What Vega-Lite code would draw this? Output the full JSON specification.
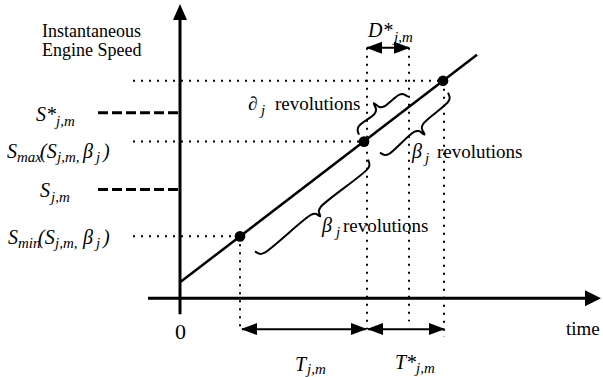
{
  "$schema": "https://vega.github.io/schema/vega-lite/v6.json",
  "width": 603,
  "height": 377,
  "autosize": {"type": "fit", "contains": "padding"},
  "padding": 0,
  "background": "white",
  "config": {"view": {"stroke": null}, "text": {"font": "Liberation Serif, serif", "color": "black"}},
  "datasets": {
    "lines": [
      {"kind": "axis", "id": "ya", "i": 0, "time": 0, "speed": -16},
      {"kind": "axis", "id": "ya", "i": 1, "time": 0, "speed": 280},
      {"kind": "axis", "id": "xa", "i": 0, "time": -32, "speed": 0},
      {"kind": "axis", "id": "xa", "i": 1, "time": 410, "speed": 0},
      {"kind": "curve", "id": "diag", "i": 0, "time": 0, "speed": 15.9},
      {"kind": "curve", "id": "diag", "i": 1, "time": 297, "speed": 244},
      {"kind": "dotted", "id": "h1", "i": 0, "time": -47, "speed": 218},
      {"kind": "dotted", "id": "h1", "i": 1, "time": 263, "speed": 218},
      {"kind": "dotted", "id": "h2", "i": 0, "time": -47, "speed": 157},
      {"kind": "dotted", "id": "h2", "i": 1, "time": 184, "speed": 157},
      {"kind": "dotted", "id": "h3", "i": 0, "time": -47, "speed": 62},
      {"kind": "dotted", "id": "h3", "i": 1, "time": 60, "speed": 62},
      {"kind": "dotted", "id": "v1", "i": 0, "time": 60, "speed": 62},
      {"kind": "dotted", "id": "v1", "i": 1, "time": 60, "speed": -31},
      {"kind": "dotted", "id": "v2", "i": 0, "time": 187, "speed": 251},
      {"kind": "dotted", "id": "v2", "i": 1, "time": 187, "speed": -31},
      {"kind": "dotted", "id": "v3", "i": 0, "time": 229, "speed": 251},
      {"kind": "dotted", "id": "v3", "i": 1, "time": 229, "speed": -23},
      {"kind": "dotted", "id": "v4", "i": 0, "time": 264, "speed": 218},
      {"kind": "dotted", "id": "v4", "i": 1, "time": 264, "speed": -39},
      {"kind": "dashed", "id": "d1", "i": 0, "time": -82, "speed": 186},
      {"kind": "dashed", "id": "d1", "i": 1, "time": 0, "speed": 186},
      {"kind": "dashed", "id": "d2", "i": 0, "time": -82, "speed": 109},
      {"kind": "dashed", "id": "d2", "i": 1, "time": 0, "speed": 109},
      {"kind": "shaft", "id": "T", "i": 0, "time": 62, "speed": -31},
      {"kind": "shaft", "id": "T", "i": 1, "time": 186, "speed": -31},
      {"kind": "shaft", "id": "Ts", "i": 0, "time": 188, "speed": -31},
      {"kind": "shaft", "id": "Ts", "i": 1, "time": 264, "speed": -31},
      {"kind": "shaft", "id": "D", "i": 0, "time": 187, "speed": 251},
      {"kind": "shaft", "id": "D", "i": 1, "time": 229, "speed": 251}
    ],
    "braces": [
      {"id": "b1", "i": 1, "time": 75, "speed": 47},
      {"id": "b1", "i": 2, "time": 79.6, "speed": 44.5},
      {"id": "b1", "i": 3, "time": 84.1, "speed": 45.4},
      {"id": "b1", "i": 4, "time": 131.3, "speed": 83.8},
      {"id": "b1", "i": 5, "time": 135.7, "speed": 84.7},
      {"id": "b1", "i": 6, "time": 140.3, "speed": 82.1},
      {"id": "b1", "i": 7, "time": 138.8, "speed": 87.2},
      {"id": "b1", "i": 8, "time": 140.6, "speed": 91.4},
      {"id": "b1", "i": 9, "time": 187.8, "speed": 129.8},
      {"id": "b1", "i": 10, "time": 189.5, "speed": 133.9},
      {"id": "b1", "i": 11, "time": 188, "speed": 139},
      {"id": "b2", "i": 1, "time": 179, "speed": 164},
      {"id": "b2", "i": 2, "time": 177.6, "speed": 169.1},
      {"id": "b2", "i": 3, "time": 179.5, "speed": 173.2},
      {"id": "b2", "i": 4, "time": 194.5, "speed": 184.9},
      {"id": "b2", "i": 5, "time": 196.1, "speed": 189.3},
      {"id": "b2", "i": 6, "time": 193.7, "speed": 195.6},
      {"id": "b2", "i": 7, "time": 199.3, "speed": 191.7},
      {"id": "b2", "i": 8, "time": 204.0, "speed": 192.2},
      {"id": "b2", "i": 9, "time": 219.0, "speed": 203.9},
      {"id": "b2", "i": 10, "time": 223.4, "speed": 204.6},
      {"id": "b2", "i": 11, "time": 228, "speed": 202},
      {"id": "b3", "i": 1, "time": 200, "speed": 146},
      {"id": "b3", "i": 2, "time": 204.7, "speed": 143.6},
      {"id": "b3", "i": 3, "time": 209.1, "speed": 144.7},
      {"id": "b3", "i": 4, "time": 234.1, "speed": 166.8},
      {"id": "b3", "i": 5, "time": 238.8, "speed": 167.6},
      {"id": "b3", "i": 6, "time": 244.6, "speed": 164.0},
      {"id": "b3", "i": 7, "time": 241.8, "speed": 170.2},
      {"id": "b3", "i": 8, "time": 243.1, "speed": 174.7},
      {"id": "b3", "i": 9, "time": 268.1, "speed": 196.8},
      {"id": "b3", "i": 10, "time": 269.7, "speed": 201.0},
      {"id": "b3", "i": 11, "time": 268, "speed": 206}
    ],
    "heads": [
      {"dir": "up", "time": 0, "speed": 287},
      {"dir": "axisright", "time": 413, "speed": 0},
      {"dir": "left", "time": 69, "speed": -31},
      {"dir": "right", "time": 179, "speed": -31},
      {"dir": "left", "time": 195, "speed": -31},
      {"dir": "right", "time": 257, "speed": -31},
      {"dir": "left", "time": 194, "speed": 251},
      {"dir": "right", "time": 222, "speed": 251}
    ],
    "dots": [
      {"time": 60, "speed": 62},
      {"time": 184, "speed": 157},
      {"time": 263, "speed": 218}
    ],
    "labels": [
      {"style": "title", "text": "Instantaneous", "time": -138, "speed": 262},
      {"style": "title", "text": "Engine Speed", "time": -138, "speed": 243},
      {"style": "plain", "text": "revolutions", "time": 95, "speed": 189},
      {"style": "plain", "text": "revolutions", "time": 257, "speed": 141},
      {"style": "plain", "text": "revolutions", "time": 163, "speed": 66},
      {"style": "plain", "text": "time", "time": 386, "speed": -37},
      {"style": "plain", "text": "∂", "time": 68, "speed": 189},
      {"style": "zero", "text": "0", "time": -5, "speed": -41},
      {"style": "ital", "text": "S*", "time": -144, "speed": 178},
      {"style": "ital", "text": "S", "time": -173, "speed": 141},
      {"style": "ital", "text": "(S", "time": -140, "speed": 141},
      {"style": "ital", "text": "β", "time": -97, "speed": 141},
      {"style": "ital", "text": ")", "time": -77, "speed": 141},
      {"style": "ital", "text": "S", "time": -140, "speed": 101},
      {"style": "ital", "text": "S", "time": -172, "speed": 54},
      {"style": "ital", "text": "(S", "time": -142, "speed": 54},
      {"style": "ital", "text": "β", "time": -97, "speed": 54},
      {"style": "ital", "text": ")", "time": -77, "speed": 54},
      {"style": "ital", "text": "D*", "time": 188, "speed": 262},
      {"style": "ital", "text": "T", "time": 115, "speed": -73},
      {"style": "ital", "text": "T*", "time": 215, "speed": -71},
      {"style": "ital", "text": "β", "time": 232, "speed": 141},
      {"style": "ital", "text": "β", "time": 142, "speed": 66},
      {"style": "sub", "text": "j,m", "time": -124, "speed": 173},
      {"style": "sub", "text": "max", "time": -163, "speed": 137},
      {"style": "sub", "text": "j,m,", "time": -123, "speed": 137},
      {"style": "sub", "text": "j", "time": -84, "speed": 137},
      {"style": "sub", "text": "j,m", "time": -129, "speed": 96},
      {"style": "sub", "text": "min", "time": -162, "speed": 50},
      {"style": "sub", "text": "j,m,", "time": -125, "speed": 50},
      {"style": "sub", "text": "j", "time": -84, "speed": 50},
      {"style": "sub", "text": "j,m", "time": 214, "speed": 257},
      {"style": "sub", "text": "j,m", "time": 127, "speed": -76},
      {"style": "sub", "text": "j,m", "time": 236, "speed": -75},
      {"style": "sub", "text": "j", "time": 81, "speed": 184},
      {"style": "sub", "text": "j", "time": 245, "speed": 136},
      {"style": "sub", "text": "j", "time": 156, "speed": 61}
    ]
  },
  "encoding": {
    "x": {"field": "time", "type": "quantitative", "scale": {"domain": [-180, 423], "nice": false, "zero": false}, "axis": null},
    "y": {"field": "speed", "type": "quantitative", "scale": {"domain": [-78, 299], "nice": false, "zero": false}, "axis": null}
  },
  "layer": [
    {
      "data": {"name": "lines"},
      "transform": [{"filter": "datum.kind === 'dotted'"}],
      "mark": {"type": "line", "color": "black", "strokeWidth": 2, "strokeDash": [2, 6]},
      "encoding": {"detail": {"field": "id"}, "order": {"field": "i"}}
    },
    {
      "data": {"name": "lines"},
      "transform": [{"filter": "datum.kind === 'dashed'"}],
      "mark": {"type": "line", "color": "black", "strokeWidth": 3, "strokeDash": [10, 4]},
      "encoding": {"detail": {"field": "id"}, "order": {"field": "i"}}
    },
    {
      "data": {"name": "lines"},
      "transform": [{"filter": "datum.kind === 'axis'"}],
      "mark": {"type": "line", "color": "black", "strokeWidth": 3},
      "encoding": {"detail": {"field": "id"}, "order": {"field": "i"}}
    },
    {
      "data": {"name": "lines"},
      "transform": [{"filter": "datum.kind === 'curve'"}],
      "mark": {"type": "line", "color": "black", "strokeWidth": 2.5},
      "encoding": {"detail": {"field": "id"}, "order": {"field": "i"}}
    },
    {
      "data": {"name": "lines"},
      "transform": [{"filter": "datum.kind === 'shaft'"}],
      "mark": {"type": "line", "color": "black", "strokeWidth": 2},
      "encoding": {"detail": {"field": "id"}, "order": {"field": "i"}}
    },
    {
      "data": {"name": "braces"},
      "mark": {"type": "line", "color": "black", "strokeWidth": 2, "interpolate": "catmull-rom"},
      "encoding": {"detail": {"field": "id"}, "order": {"field": "i"}}
    },
    {
      "data": {"name": "heads"},
      "mark": {"type": "point", "filled": true, "color": "black", "opacity": 1, "size": 256, "strokeWidth": 0},
      "encoding": {
        "shape": {
          "field": "dir", "type": "nominal", "legend": null,
          "scale": {
            "domain": ["up", "axisright", "right", "left"],
            "range": ["M0,-1L-0.875,1L0.875,1Z", "M1,0L-1,-1L-1,1Z", "M1,0L-1,-0.75L-1,0.75Z", "M-1,0L1,-0.75L1,0.75Z"]
          }
        }
      }
    },
    {
      "data": {"name": "dots"},
      "mark": {"type": "point", "shape": "circle", "filled": true, "color": "black", "opacity": 1, "size": 115}
    },
    {
      "data": {"name": "labels"},
      "transform": [{"filter": "datum.style === 'title'"}],
      "mark": {"type": "text", "font": "Liberation Serif, serif", "fontSize": 18, "align": "left", "baseline": "alphabetic", "color": "black"},
      "encoding": {"text": {"field": "text"}}
    },
    {
      "data": {"name": "labels"},
      "transform": [{"filter": "datum.style === 'plain'"}],
      "mark": {"type": "text", "font": "Liberation Serif, serif", "fontSize": 19, "align": "left", "baseline": "alphabetic", "color": "black"},
      "encoding": {"text": {"field": "text"}}
    },
    {
      "data": {"name": "labels"},
      "transform": [{"filter": "datum.style === 'zero'"}],
      "mark": {"type": "text", "font": "Liberation Serif, serif", "fontSize": 22, "align": "left", "baseline": "alphabetic", "color": "black"},
      "encoding": {"text": {"field": "text"}}
    },
    {
      "data": {"name": "labels"},
      "transform": [{"filter": "datum.style === 'ital'"}],
      "mark": {"type": "text", "font": "Liberation Serif, serif", "fontSize": 20, "fontStyle": "italic", "align": "left", "baseline": "alphabetic", "color": "black"},
      "encoding": {"text": {"field": "text"}}
    },
    {
      "data": {"name": "labels"},
      "transform": [{"filter": "datum.style === 'sub'"}],
      "mark": {"type": "text", "font": "Liberation Serif, serif", "fontSize": 15, "fontStyle": "italic", "align": "left", "baseline": "alphabetic", "color": "black"},
      "encoding": {"text": {"field": "text"}}
    }
  ]
}
